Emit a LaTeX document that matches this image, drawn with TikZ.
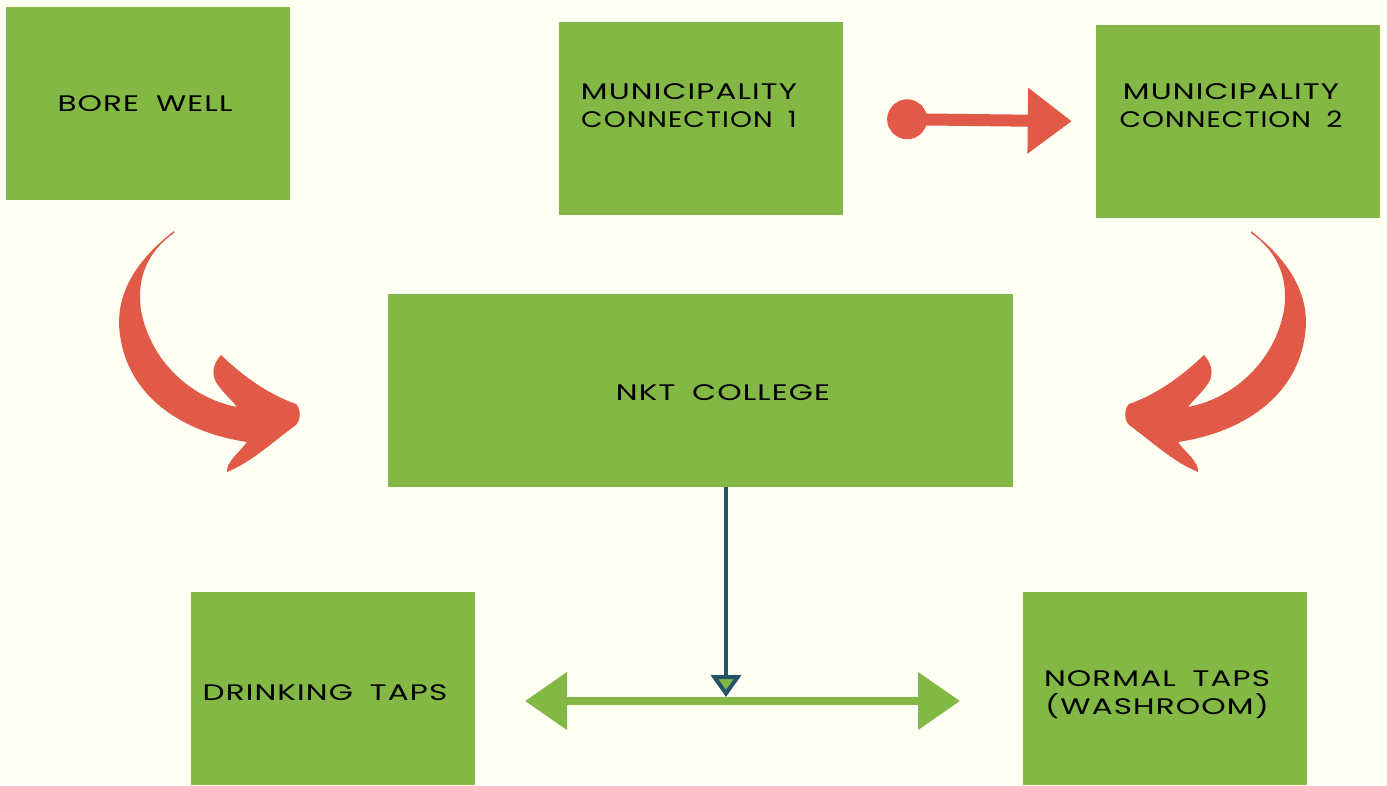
\documentclass[tikz,border=0pt]{standalone}
\usepackage{fontspec}
\setmainfont{Poppins}[LetterSpace=5,FakeStretch=1.38]
\usetikzlibrary{arrows.meta,calc}
\definecolor{bg}{HTML}{FFFFF4}
\definecolor{grn}{HTML}{82B843}
\definecolor{rd}{HTML}{E05A47}
\definecolor{dblue}{HTML}{245368}
\newcommand{\wsp}{\hspace{0.75em}}
\newcommand{\narrowline}[1]{\scalebox{0.9}[1]{#1}}
\begin{document}
\begin{tikzpicture}[x=1pt,y=-1pt,
  box/.style={fill=grn,draw=none,minimum width=284pt,minimum height=193pt,inner sep=0pt},
  txt/.style={font=\fontsize{22.5}{28}\selectfont,align=center,inner sep=0pt,text=black},
  curv/.style={fill=rd,draw=none}]
\fill[bg] (0,0) rectangle (1387,785);
\useasboundingbox (0,0) rectangle (1387,785);
% boxes
\node[box] (bw) at (148,103.5) {};
\node[box] (mc1) at (701,118.5) {};
\node[box] (mc2) at (1238,121.5) {};
\node[box,minimum width=625pt] (nkt) at (700.5,390.5) {};
\node[box] (dt) at (333,688) {};
\node[box] (nt) at (1165,688) {};
% texts
\node[txt] (bwt) at (145,104) {BORE\wsp WELL};
\node[txt] (mc1t) at (689,106) {MUNICIPALITY\\\narrowline{CONNECTION\wsp 1}};
\node[txt] (mc2t) at (1231,106) {MUNICIPALITY\\\narrowline{CONNECTION\wsp 2}};
\node[txt] (nktt) at (723,393) {NKT\wsp COLLEGE};
\node[txt] (dtt) at (325,693) {DRINKING\wsp TAPS};
\node[txt] (ntt) at (1157,695) {NORMAL\wsp TAPS\\(WASHROOM)};
% connector mc1 -> mc2
\draw[rd,line width=12pt,shorten <=44pt,shorten >=24pt,
  {Circle[length=40pt]}-{Triangle[length=44pt,width=63pt]}]
  (mc1.east) -- (mc2.west);
% green double arrow
\coordinate (dl) at (525,701);
\coordinate (dr) at (960,701);
\draw[grn,line width=8pt,{Triangle[length=42pt,width=56pt]}-{Triangle[length=42pt,width=56pt]}] (dl) -- (dr);
% down arrow
\coordinate (dm) at (726,697);
\draw[dblue,line width=4pt,-{Triangle[length=22pt,width=30pt,fill=grn]}] (nkt.south -| dm) -- (dm);
% curved arrows
\foreach \s/\o in {1/0,-1/1425}{
\begin{scope}[xshift=\o pt,xscale=\s]
\fill[rd] (174,231)
  .. controls (130,265) and (115,300) .. (120,335)
  .. controls (128,395) and (180,432) .. (247,442)
  .. controls (240,452) and (226,462) .. (227,472)
  .. controls (252,462) and (275,440) .. (296,425)
  .. controls (302,418) and (300,408) .. (296,404)
  .. controls (270,395) and (245,378) .. (221,355)
  .. controls (212,365) and (212,375) .. (216,382)
  .. controls (222,392) and (232,400) .. (237,407)
  .. controls (190,398) and (150,360) .. (141,310)
  .. controls (136,275) and (150,250) .. (174,233) -- cycle;
\end{scope}}
\end{tikzpicture}
\end{document}
